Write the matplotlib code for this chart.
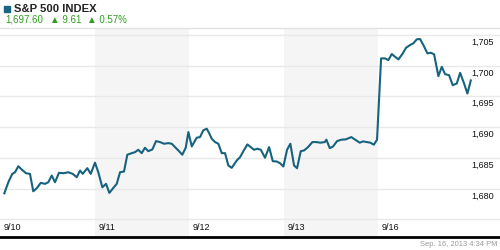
import matplotlib
matplotlib.use("Agg")
import matplotlib.pyplot as plt
from matplotlib.patches import Rectangle

plt.rcParams["font.family"] = ["Liberation Sans", "DejaVu Sans"]

# intraday S&P 500 readings, x in trading days since 9/10 open
times = [
    0.046, 0.088, 0.130, 0.159, 0.194, 0.230, 0.275, 0.317, 0.352, 0.388,
    0.431, 0.476, 0.511, 0.547, 0.582, 0.624, 0.670, 0.723, 0.769, 0.812,
    0.847, 0.875, 0.924, 0.960, 1.005, 1.040,
    1.083, 1.122, 1.157, 1.199, 1.235, 1.270, 1.312, 1.347, 1.394, 1.429,
    1.463, 1.499, 1.534, 1.569, 1.612, 1.651, 1.693, 1.735, 1.781, 1.817,
    1.859, 1.894, 1.929, 1.965, 1.993, 2.029,
    2.081, 2.116, 2.151, 2.187, 2.212, 2.240, 2.275, 2.310, 2.346, 2.381,
    2.416, 2.452, 2.505, 2.540, 2.575, 2.617, 2.653, 2.688, 2.723, 2.759,
    2.804, 2.847, 2.886, 2.928, 2.963, 2.998,
    3.037, 3.072, 3.111, 3.143, 3.182, 3.217, 3.259, 3.305, 3.347, 3.389,
    3.436, 3.453, 3.489, 3.524, 3.566, 3.612, 3.658, 3.717, 3.770, 3.806,
    3.841, 3.884, 3.919, 3.955, 3.989,
    4.032, 4.074, 4.109, 4.145, 4.180, 4.215, 4.257, 4.296, 4.339, 4.373,
    4.410, 4.444, 4.479, 4.522, 4.558, 4.593, 4.638, 4.674, 4.709, 4.751,
    4.790, 4.833, 4.868, 4.910, 4.945, 4.981,
]
prices = [
    1679.23, 1681.03, 1682.40, 1682.66, 1683.64, 1683.10, 1682.50, 1682.40, 1679.56, 1680.05,
    1680.93, 1680.77, 1681.03, 1682.12, 1681.03, 1682.57, 1682.50, 1682.66, 1682.40, 1681.85,
    1682.94, 1682.40, 1683.32, 1682.40, 1684.22, 1682.66,
    1680.21, 1680.77, 1679.30, 1680.11, 1680.77, 1682.66, 1682.78, 1685.51, 1685.77, 1685.93,
    1686.32, 1685.77, 1686.65, 1686.09, 1686.37, 1687.73, 1687.57, 1687.30, 1687.40, 1687.30,
    1686.65, 1686.09, 1685.51, 1686.65, 1689.20, 1686.86,
    1688.28, 1688.38, 1689.48, 1689.75, 1689.04, 1688.12, 1687.57, 1687.30, 1685.77, 1685.77,
    1683.76, 1683.38, 1684.58, 1685.11, 1686.09, 1687.19, 1686.75, 1686.32, 1686.49, 1686.32,
    1685.02, 1686.75, 1684.46, 1684.41, 1684.13, 1683.59,
    1686.32, 1687.30, 1683.76, 1683.32, 1686.09, 1686.21, 1686.75, 1687.57, 1687.57, 1687.47,
    1687.57, 1687.96, 1686.58, 1686.86, 1687.73, 1687.96, 1688.01, 1688.38, 1687.84, 1687.47,
    1687.68, 1687.57, 1687.47, 1687.14, 1687.96,
    1701.19, 1701.19, 1700.92, 1701.90, 1701.45, 1701.03, 1701.90, 1702.92, 1703.37, 1703.64,
    1704.30, 1704.35, 1703.37, 1702.01, 1702.11, 1701.85, 1698.30, 1699.82, 1698.63, 1698.46,
    1696.83, 1697.11, 1698.84, 1697.11, 1695.47, 1697.60,
]

day_labels = ["9/10", "9/11", "9/12", "9/13", "9/16"]
y_ticks = [1675, 1680, 1685, 1690, 1695, 1700, 1705]

title = "S&P 500 INDEX"
last_price = "1,697.60"
change = "9.61"
change_pct = "0.57%"
stamp = "Sep. 16, 2013 4:34 PM"

line_color = "#17637f"
green = "#2f9e1f"

fig = plt.figure(figsize=(5, 2.5), dpi=100)
ax = fig.add_axes([0, 0.054, 1, 0.834])

ax.set_xlim(0, 5.29)
ax.set_ylim(1672.2, 1706.14)

# shaded alternating days
for i in range(len(day_labels)):
    if i % 2 == 1:
        ax.axvspan(i, i + 1, color="#f5f5f5", zorder=0, lw=0)

for v in y_ticks:
    ax.axhline(v, color="#e9e9e9", lw=1, zorder=1)

ax.plot(times, prices, color=line_color, lw=1.5, zorder=3)

for v in y_ticks[1:]:
    ax.text(0.988, v - 0.45, f"{v:,}", transform=ax.get_yaxis_transform(),
            ha="right", va="top", fontsize=6.5, color="#111111")

for i, lab in enumerate(day_labels):
    ax.text(i + 0.04, 1675 - 0.6, lab, ha="left", va="top", fontsize=6.5, color="#111111")

ax.set_xticks([])
ax.set_yticks([])
for s in ["left", "right"]:
    ax.spines[s].set_visible(False)
ax.spines["top"].set_color("#e2e2e2")
ax.spines["top"].set_linewidth(1)
ax.spines["bottom"].set_color("black")
ax.spines["bottom"].set_linewidth(2)

# header
fig.patches.append(Rectangle((4 / 500, 1 - 12 / 250), 6 / 500, 6 / 250,
                             transform=fig.transFigure, color="#1b6584"))
fig.text(14 / 500, 1 - 8.5 / 250, title, fontsize=8.1, fontweight="bold",
         color="#222222", va="center", ha="left")
fig.text(5 / 500, 1 - 20 / 250, last_price, fontsize=7, color=green, va="center", ha="left")
fig.text(50 / 500, 1 - 20 / 250, "\u25b2 " + change, fontsize=7, color=green,
         va="center", ha="left")
fig.text(87 / 500, 1 - 20 / 250, "\u25b2 " + change_pct, fontsize=7, color=green,
         va="center", ha="left")

fig.text(497 / 500, 1 - 245 / 250, stamp, fontsize=5.4, color="#999999",
         va="center", ha="right")

fig.savefig("out.png", dpi=100)
